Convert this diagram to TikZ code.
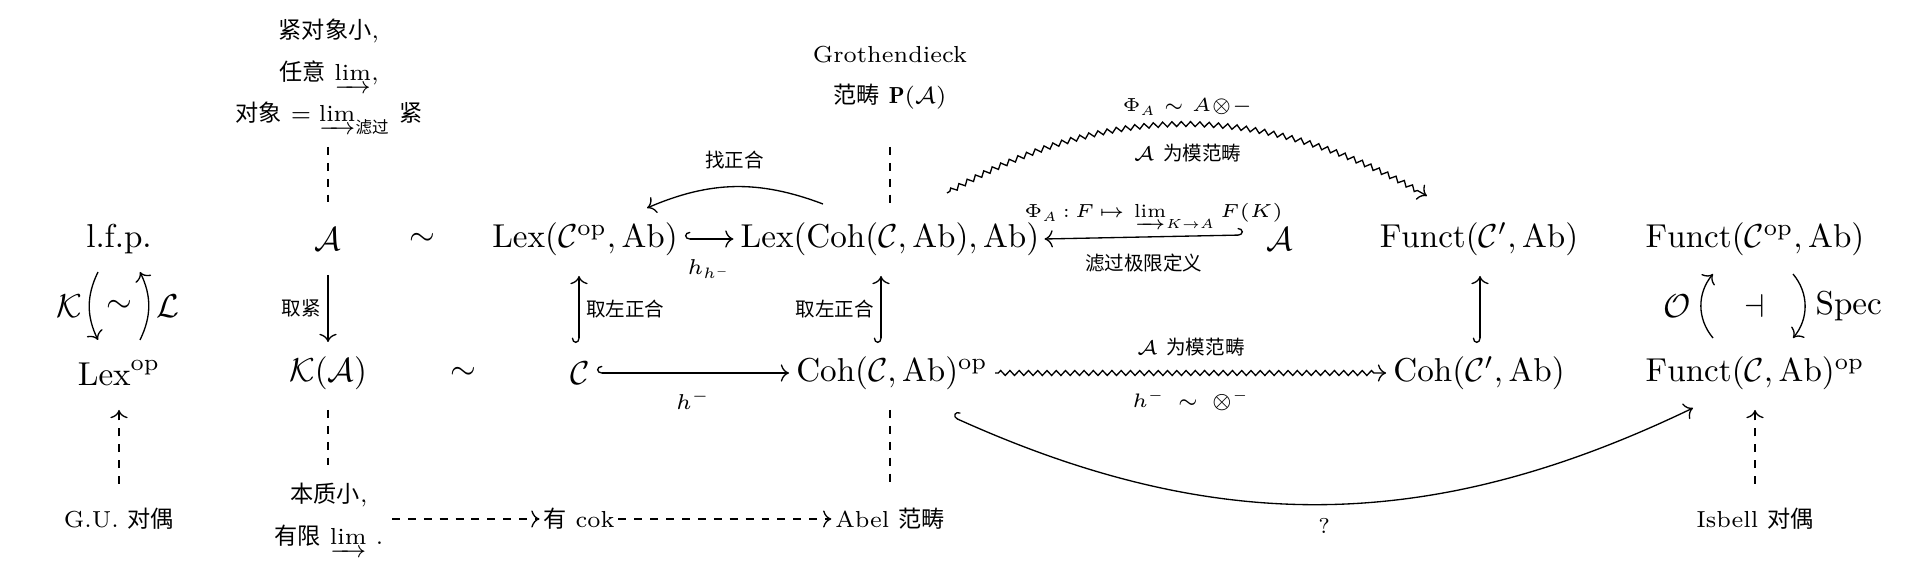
\RequirePackage{fix-cm}
\documentclass[tikz,border=0pt]{standalone}
\usepackage{amsmath,amssymb}
\usepackage{fontspec}
\newfontfamily\cjk{Noto Sans CJK SC}
\usetikzlibrary{cd,calc,decorations.pathmorphing}
\tikzset{
  ar/.style={-{tikzcd to}},
  hk/.style={{tikzcd right hook}-{tikzcd to}},
  hkr/.style={{tikzcd left hook}-{tikzcd to}},
  dsh/.style={dash pattern=on 2.4pt off 2.4pt},
  sq/.style={decorate, decoration={zigzag, segment length=2.8pt, amplitude=0.75pt, pre length=1pt, post length=2.5pt}},
  m/.style={inner sep=2pt, font=\normalsize},
  note/.style={inner sep=1pt, align=center, font=\fontsize{7}{12.5}\selectfont},
  lab/.style={inner sep=2pt, font=\fontsize{6.5}{8}\selectfont},
  labs/.style={inner sep=1.5pt, font=\fontsize{5.7}{7}\selectfont},
  cl/.style={inner sep=2pt, font=\fontsize{5.9}{7}\selectfont},
  big/.style={inner sep=2pt, font=\normalsize}
}
\begin{document}
\begin{tikzpicture}[x=0.302pt, y=-0.302pt]
\useasboundingbox (0,0) rectangle (1920,563);
% column 1
\node[m] (lfp) at (119,239) {l.f.p.};
\node[m] (lexop) at (119,373) {$\mathrm{Lex}^{\mathrm{op}}$};
\node[note] (gu) at (119,519) {G.U. {\cjk 对偶}};
\draw[ar] ($(lfp)+(-21,33)$) to[bend right=26] node[big,left] {$\mathcal{K}$} ($(lexop)+(-21,-33)$);
\draw[ar] ($(lexop)+(21,-33)$) to[bend right=26] node[big,right] {$\mathcal{L}$} ($(lfp)+(21,33)$);
\node[big] (tl) at (119,306) {$\sim$};
\draw[ar,dsh] ($(gu)+(0,-35)$) -- ($(lexop)+(0,37)$);
% column 2
\node[note] (cpt) at (329,77) {{\cjk 紧对象小}$,$\\{\cjk 任意} $\varinjlim,$\\{\cjk 对象} $=\varinjlim_{\text{\cjk 滤过}}$ {\cjk 紧}};
\node[m] (A1) at (328,239) {$\mathcal{A}$};
\node[m] (KA) at (328,373) {$\mathcal{K}(\mathcal{A})$};
\draw[dsh] ($(A1)+(0,-92)$) -- ($(A1)+(0,-37)$);
\draw[ar] ($(A1)+(0,36)$) -- node[cl,left] {\cjk 取紧} ($(KA)+(0,-31)$);
\node[note] (ess) at (329,519) {{\cjk 本质小}$,$\\{\cjk 有限} $\varinjlim\,.$};
\draw[dsh] ($(KA)+(0,37)$) -- ($(KA)+(0,92)$);
% tildes
\node[m] (t1) at (422,239) {$\sim$};
\node[m] (t2) at (463,373) {$\sim$};
% column 4
\node[m] (LexC) at (585,239) {$\mathrm{Lex}(\mathcal{C}^{\mathrm{op}},\mathrm{Ab})$};
\node[m] (C) at (580,373) {$\mathcal{C}$};
\node[note] (cok) at (579,519) {{\cjk 有} cok};
% column 5
\node[note] (groth) at (890,78) {Grothendieck\\{\cjk 范畴} $\mathbf{P}(\mathcal{A})$};
\node[m] (LexCoh) at (890,239) {$\mathrm{Lex}(\mathrm{Coh}(\mathcal{C},\mathrm{Ab}),\mathrm{Ab})$};
\node[m] (CohOp) at (892,373) {$\mathrm{Coh}(\mathcal{C},\mathrm{Ab})^{\mathrm{op}}$};
\node[note] (abel) at (890,519) {Abel {\cjk 范畴}};
\draw[dsh] ($(LexCoh)+(0,-92)$) -- ($(LexCoh)+(0,-35)$);
\draw[dsh] ($(CohOp)+(-2,37)$) -- ($(CohOp)+(-2,111)$);
% column 6,7,8
\node[m] (A2) at (1280,239) {$\mathcal{A}$};
\node[m] (FC1) at (1479,239) {$\mathrm{Funct}(\mathcal{C}',\mathrm{Ab})$};
\node[m] (CohC1) at (1479,373) {$\mathrm{Coh}(\mathcal{C}',\mathrm{Ab})$};
\node[m] (FCop) at (1755,239) {$\mathrm{Funct}(\mathcal{C}^{\mathrm{op}},\mathrm{Ab})$};
\node[m] (FCo) at (1755,373) {$\mathrm{Funct}(\mathcal{C},\mathrm{Ab})^{\mathrm{op}}$};
\node[note] (isb) at (1755,519) {Isbell {\cjk 对偶}};
% bottom dashed arrows
\draw[ar,dsh] ($(ess)+(63,0)$) -- (cok);
\draw[ar,dsh] (cok) -- (abel);
\draw[ar,dsh] ($(isb)+(0,-35)$) -- ($(FCo)+(0,37)$);
% horizontal arrows
\draw[hk] (LexC) -- node[lab,below=4pt] {$h_{h^-}$} (LexCoh);
\draw[hk] (C) -- node[lab,below=3pt] {$h^-$} (CohOp);
\draw[hkr] ($(A2)+(-37,-4)$) -- node[labs,above=1pt,xshift=3pt] {$\Phi_A\,{:}\,F\,{\mapsto}\,\varinjlim_{K\to A}F(K)$} node[cl,below=3pt] {\cjk 滤过极限定义} ($(LexCoh.east)+(-2,0)$);
\draw[ar] ($(LexCoh)+(-67,-35)$) to[bend right=22] node[cl,above=3pt] {\cjk 找正合} ($(LexC)+(62,-31)$);
% vertical arrows
\draw[hk] ($(C)+(-1,-30)$) -- node[cl,right] {\cjk 取左正合} ($(LexC)+(-6,37)$);
\draw[hk] ($(CohOp)+(-11,-30)$) -- node[cl,left] {\cjk 取左正合} ($(LexCoh)+(-9,37)$);
\draw[hk] ($(CohC1)+(1,-30)$) -- ($(FC1)+(1,37)$);
\draw[ar] ($(FCo)+(-42,-35)$) to[bend left=40] node[big,left=1pt] {$\mathcal{O}$} ($(FCop)+(-42,35)$);
\draw[ar] ($(FCop)+(38,35)$) to[bend left=40] node[big,right=1pt] {$\mathrm{Spec}$} ($(FCo)+(38,-35)$);
\node[big] (adj) at (1755,306) {$\dashv$};
% squiggly arrows
\draw[ar,sq] (CohOp) -- node[cl,above=3pt] {$\mathcal{A}$ {\cjk 为模范畴}} node[cl,below=3pt] {$h^{-}\,\sim\,\otimes^{-}$} (CohC1);
\draw[ar,sq] ($(LexCoh)+(57,-46)$) to[bend left=30] node[labs,above=1pt] {$\Phi_A \sim A{\otimes}{-}$} node[cl,below=4pt] {$\mathcal{A}$ {\cjk 为模范畴}} ($(FC1)+(-52,-43)$);
% big curve
\draw[hk] ($(CohOp)+(61,44)$) to[bend right=25] node[lab,below=2pt] {?} ($(FCo)+(-62,35)$);
\end{tikzpicture}
\end{document}
